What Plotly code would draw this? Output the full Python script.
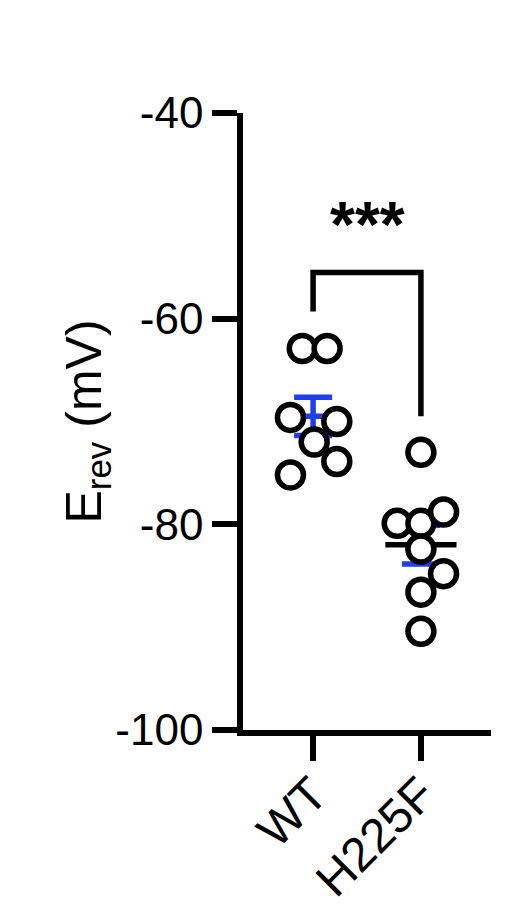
import numpy as np
import plotly.graph_objects as go

# E_rev values (mV)
groups = ["WT", "H225F"]
wt_vals = [-62.9, -62.9, -69.6, -70.0, -72.0, -73.9, -75.2]
h225f_vals = [-73.0, -79.9, -79.9, -78.8, -82.4, -84.8, -86.6, -90.4]
# horizontal scatter of the dots (category units)
wt_jitter = [-0.10, 0.13, -0.21, 0.22, 0.01, 0.22, -0.21]
h225f_jitter = [0.0, -0.22, 0.0, 0.21, 0.0, 0.21, 0.0, 0.0]
y_ticks = [-100, -80, -60, -40]
sig_label = "***"
bracket_top = -55.5
bracket_left_end = -59.3
bracket_right_end = -69.5

BLUE = "#1f3fe8"
FONT = "Liberation Sans, Arial, sans-serif"
LW = 5.5

fig = go.Figure()

series = [(wt_vals, wt_jitter, BLUE), (h225f_vals, h225f_jitter, "black")]
for i, (vals, jit, mean_col) in enumerate(series):
    v = np.array(vals)
    mean = v.mean()
    sem = v.std(ddof=1) / np.sqrt(len(v))
    # mean line
    fig.add_trace(go.Scatter(x=[i - 0.33, i + 0.33], y=[mean, mean], mode="lines",
                             line=dict(color=mean_col, width=LW), showlegend=False,
                             hoverinfo="skip"))
    # SEM bar
    fig.add_trace(go.Scatter(x=[i], y=[mean], mode="markers",
                             marker=dict(size=1, color="rgba(0,0,0,0)"),
                             error_y=dict(type="data", array=[sem], color=BLUE,
                                          thickness=LW, width=19),
                             showlegend=False, hoverinfo="skip"))

for i, (vals, jit, _) in enumerate(series):
    fig.add_trace(go.Scatter(x=[i + j for j in jit], y=vals, mode="markers",
                             marker=dict(symbol="circle", size=26, color="white",
                                         line=dict(color="black", width=LW)),
                             showlegend=False))

# significance bracket
fig.add_trace(go.Scatter(x=[0, 0, 1, 1],
                         y=[bracket_left_end, bracket_top, bracket_top, bracket_right_end],
                         mode="lines", line=dict(color="black", width=LW),
                         showlegend=False, hoverinfo="skip"))
fig.add_annotation(x=0.5, y=bracket_top, yshift=47, text="<b>" + sig_label + "</b>",
                   showarrow=False, font=dict(family=FONT, size=64, color="black"))

fig.update_layout(
    width=513, height=919,
    margin=dict(l=235, r=30, t=105, b=197),
    plot_bgcolor="white", paper_bgcolor="white",
    font=dict(family=FONT, color="black"),
    xaxis=dict(range=[-0.65, 1.65], tickmode="array", tickvals=[0, 1], ticktext=groups,
               tickangle=-45, tickfont=dict(size=48), ticks="outside", ticklen=25,
               tickwidth=LW, tickcolor="black", showline=True, linecolor="black",
               linewidth=LW, showgrid=False, zeroline=False, ticklabelstandoff=-14),
    yaxis=dict(range=[-100, -40], tickmode="array", tickvals=y_ticks,
               ticktext=[str(t) for t in y_ticks], tickfont=dict(size=44),
               ticks="outside", ticklen=25, tickwidth=LW, tickcolor="black",
               showline=True, linecolor="black", linewidth=LW, showgrid=False,
               zeroline=False,
               title=dict(text="E<sub>rev</sub> (mV)", font=dict(size=50), standoff=0)),
)

fig.write_html("out.html")
